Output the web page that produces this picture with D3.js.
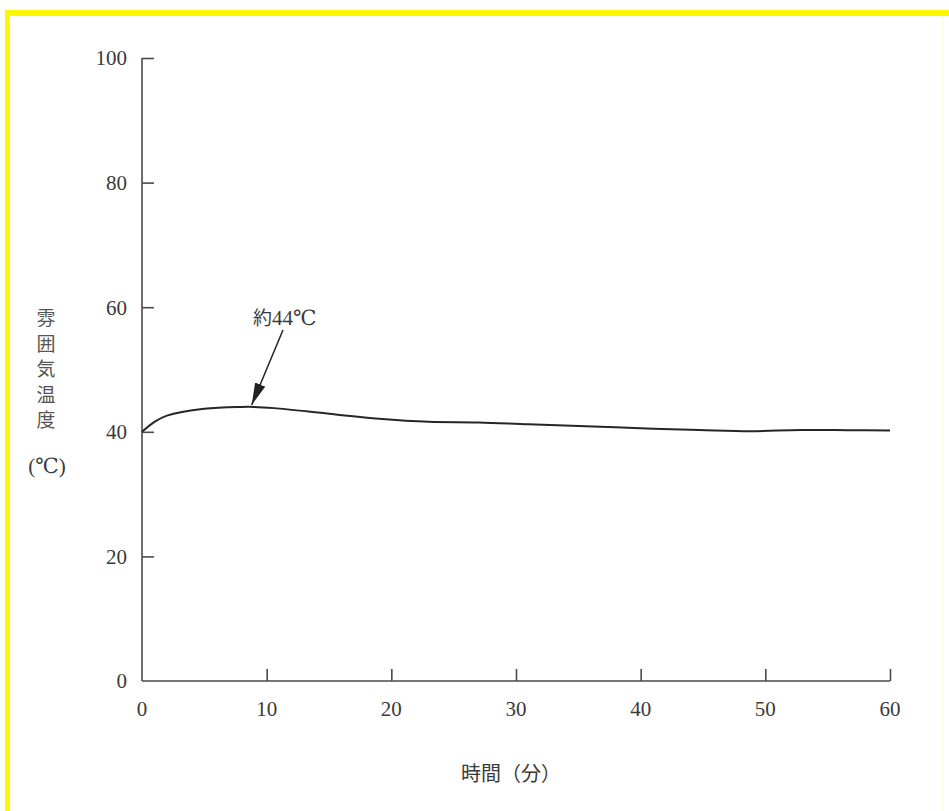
<!DOCTYPE html>
<html>
<head>
<meta charset="utf-8">
<script src="https://cdn.jsdelivr.net/npm/d3@7"></script>
<style>
  html, body { margin: 0; padding: 0; background: #fff; }
  svg { display: block; }
</style>
</head>
<body>
<svg id="chart" width="949" height="811"></svg>
<script>
// ---- data ----
const timeMin = [0, 1, 2, 5, 8, 9, 10.6, 15, 19, 23, 27, 31, 35.6, 41, 44.7, 48.8, 52.8, 56.8, 60];
const tempC   = [40, 41.6, 42.6, 43.7, 44.0, 44.0, 43.8, 42.9, 42.1, 41.6, 41.5, 41.2, 40.9, 40.5, 40.3, 40.1, 40.3, 40.25, 40.2];
const xTicks = [0, 10, 20, 30, 40, 50, 60];
const yTicks = [0, 20, 40, 60, 80, 100];
const xTitle = "時間（分）";
const yTitleChars = ["雰", "囲", "気", "温", "度"];
const yUnit = "(℃)";
const annotation = { prefix: "約", value: "44℃", t: 8.8, v: 44.0 };

const svg = d3.select("#chart");
const W = 949, H = 811;
const axisColor = "#4a4a4a";
const textColor = "#3a3a3a";
const numFont = "'Liberation Serif', 'DejaVu Serif', serif";
const cjkFont = "'Noto Sans CJK JP', 'Noto Sans CJK SC', sans-serif";

// yellow frame (top and left)
svg.append("rect").attr("x", 5).attr("y", 10).attr("width", W - 5).attr("height", 6).attr("fill", "#fff600");
svg.append("rect").attr("x", 5).attr("y", 10).attr("width", 5).attr("height", H - 10).attr("fill", "#fff600");
svg.append("rect").attr("x", 942).attr("y", 16).attr("width", 2).attr("height", H - 16).attr("fill", "#fffbe6");

const x = d3.scaleLinear().domain([0, 60]).range([142, 890]);
const y = d3.scaleLinear().domain([0, 100]).range([681, 58]);

// y axis
const gy = svg.append("g").attr("transform", `translate(${x(0)},0)`)
  .call(d3.axisRight(y).tickValues(yTicks.filter(d => d !== 0)).tickSize(12).tickFormat(""));
gy.select(".domain").attr("d", `M0,${y(0)}V${y(100)}`);
gy.selectAll("line, path").attr("stroke", axisColor).attr("stroke-width", 1.6);

svg.append("g").selectAll("text").data(yTicks).join("text")
  .attr("x", 127).attr("y", d => y(d)).attr("dy", "0.35em")
  .attr("text-anchor", "end").attr("font-family", numFont).attr("font-size", 21).attr("fill", textColor)
  .text(d => d);

// x axis
const gx = svg.append("g").attr("transform", `translate(0,${y(0)})`)
  .call(d3.axisTop(x).tickValues(xTicks.filter(d => d !== 0)).tickSize(12).tickFormat(""));
gx.select(".domain").attr("d", `M${x(0)},0H${x(60)}`);
gx.selectAll("line, path").attr("stroke", axisColor).attr("stroke-width", 1.6);

svg.append("g").selectAll("text").data(xTicks).join("text")
  .attr("x", d => x(d)).attr("y", 716)
  .attr("text-anchor", "middle").attr("font-family", numFont).attr("font-size", 21).attr("fill", textColor)
  .text(d => d);

// titles
svg.append("text").attr("x", 511).attr("y", 781).attr("text-anchor", "middle")
  .attr("font-family", cjkFont).attr("font-size", 20).attr("fill", textColor).text(xTitle);

svg.append("g").selectAll("text").data(yTitleChars).join("text")
  .attr("x", 46).attr("y", (d, i) => 325 + i * 25.5).attr("text-anchor", "middle")
  .attr("font-family", cjkFont).attr("font-size", 19).attr("fill", "#555").text(d => d);
svg.append("text").attr("x", 47).attr("y", 473).attr("text-anchor", "middle")
  .attr("font-family", numFont).attr("font-size", 21).attr("fill", textColor).text(yUnit);

// curve
const line = d3.line().x((d, i) => x(timeMin[i])).y(d => y(d)).curve(d3.curveCatmullRom.alpha(0.5));
svg.append("path").datum(tempC).attr("d", line)
  .attr("fill", "none").attr("stroke", "#262626").attr("stroke-width", 2);

// annotation
svg.append("defs").append("marker").attr("id", "arr")
  .attr("viewBox", "0 0 20 10").attr("refX", 20).attr("refY", 5)
  .attr("markerUnits", "userSpaceOnUse").attr("markerWidth", 22).attr("markerHeight", 11)
  .attr("orient", "auto")
  .append("path").attr("d", "M0,0L20,5L0,10Z").attr("fill", "#222");

const tipX = x(annotation.t), tipY = y(annotation.v) - 2;
svg.append("line").attr("x1", 283).attr("y1", 330).attr("x2", tipX).attr("y2", tipY)
  .attr("stroke", "#222").attr("stroke-width", 1.5).attr("marker-end", "url(#arr)");
const ann = svg.append("text").attr("x", 253).attr("y", 325).attr("fill", textColor);
ann.append("tspan").attr("font-family", cjkFont).attr("font-size", 19).text(annotation.prefix);
ann.append("tspan").attr("font-family", numFont).attr("font-size", 21).text(annotation.value);
</script>
</body>
</html>
